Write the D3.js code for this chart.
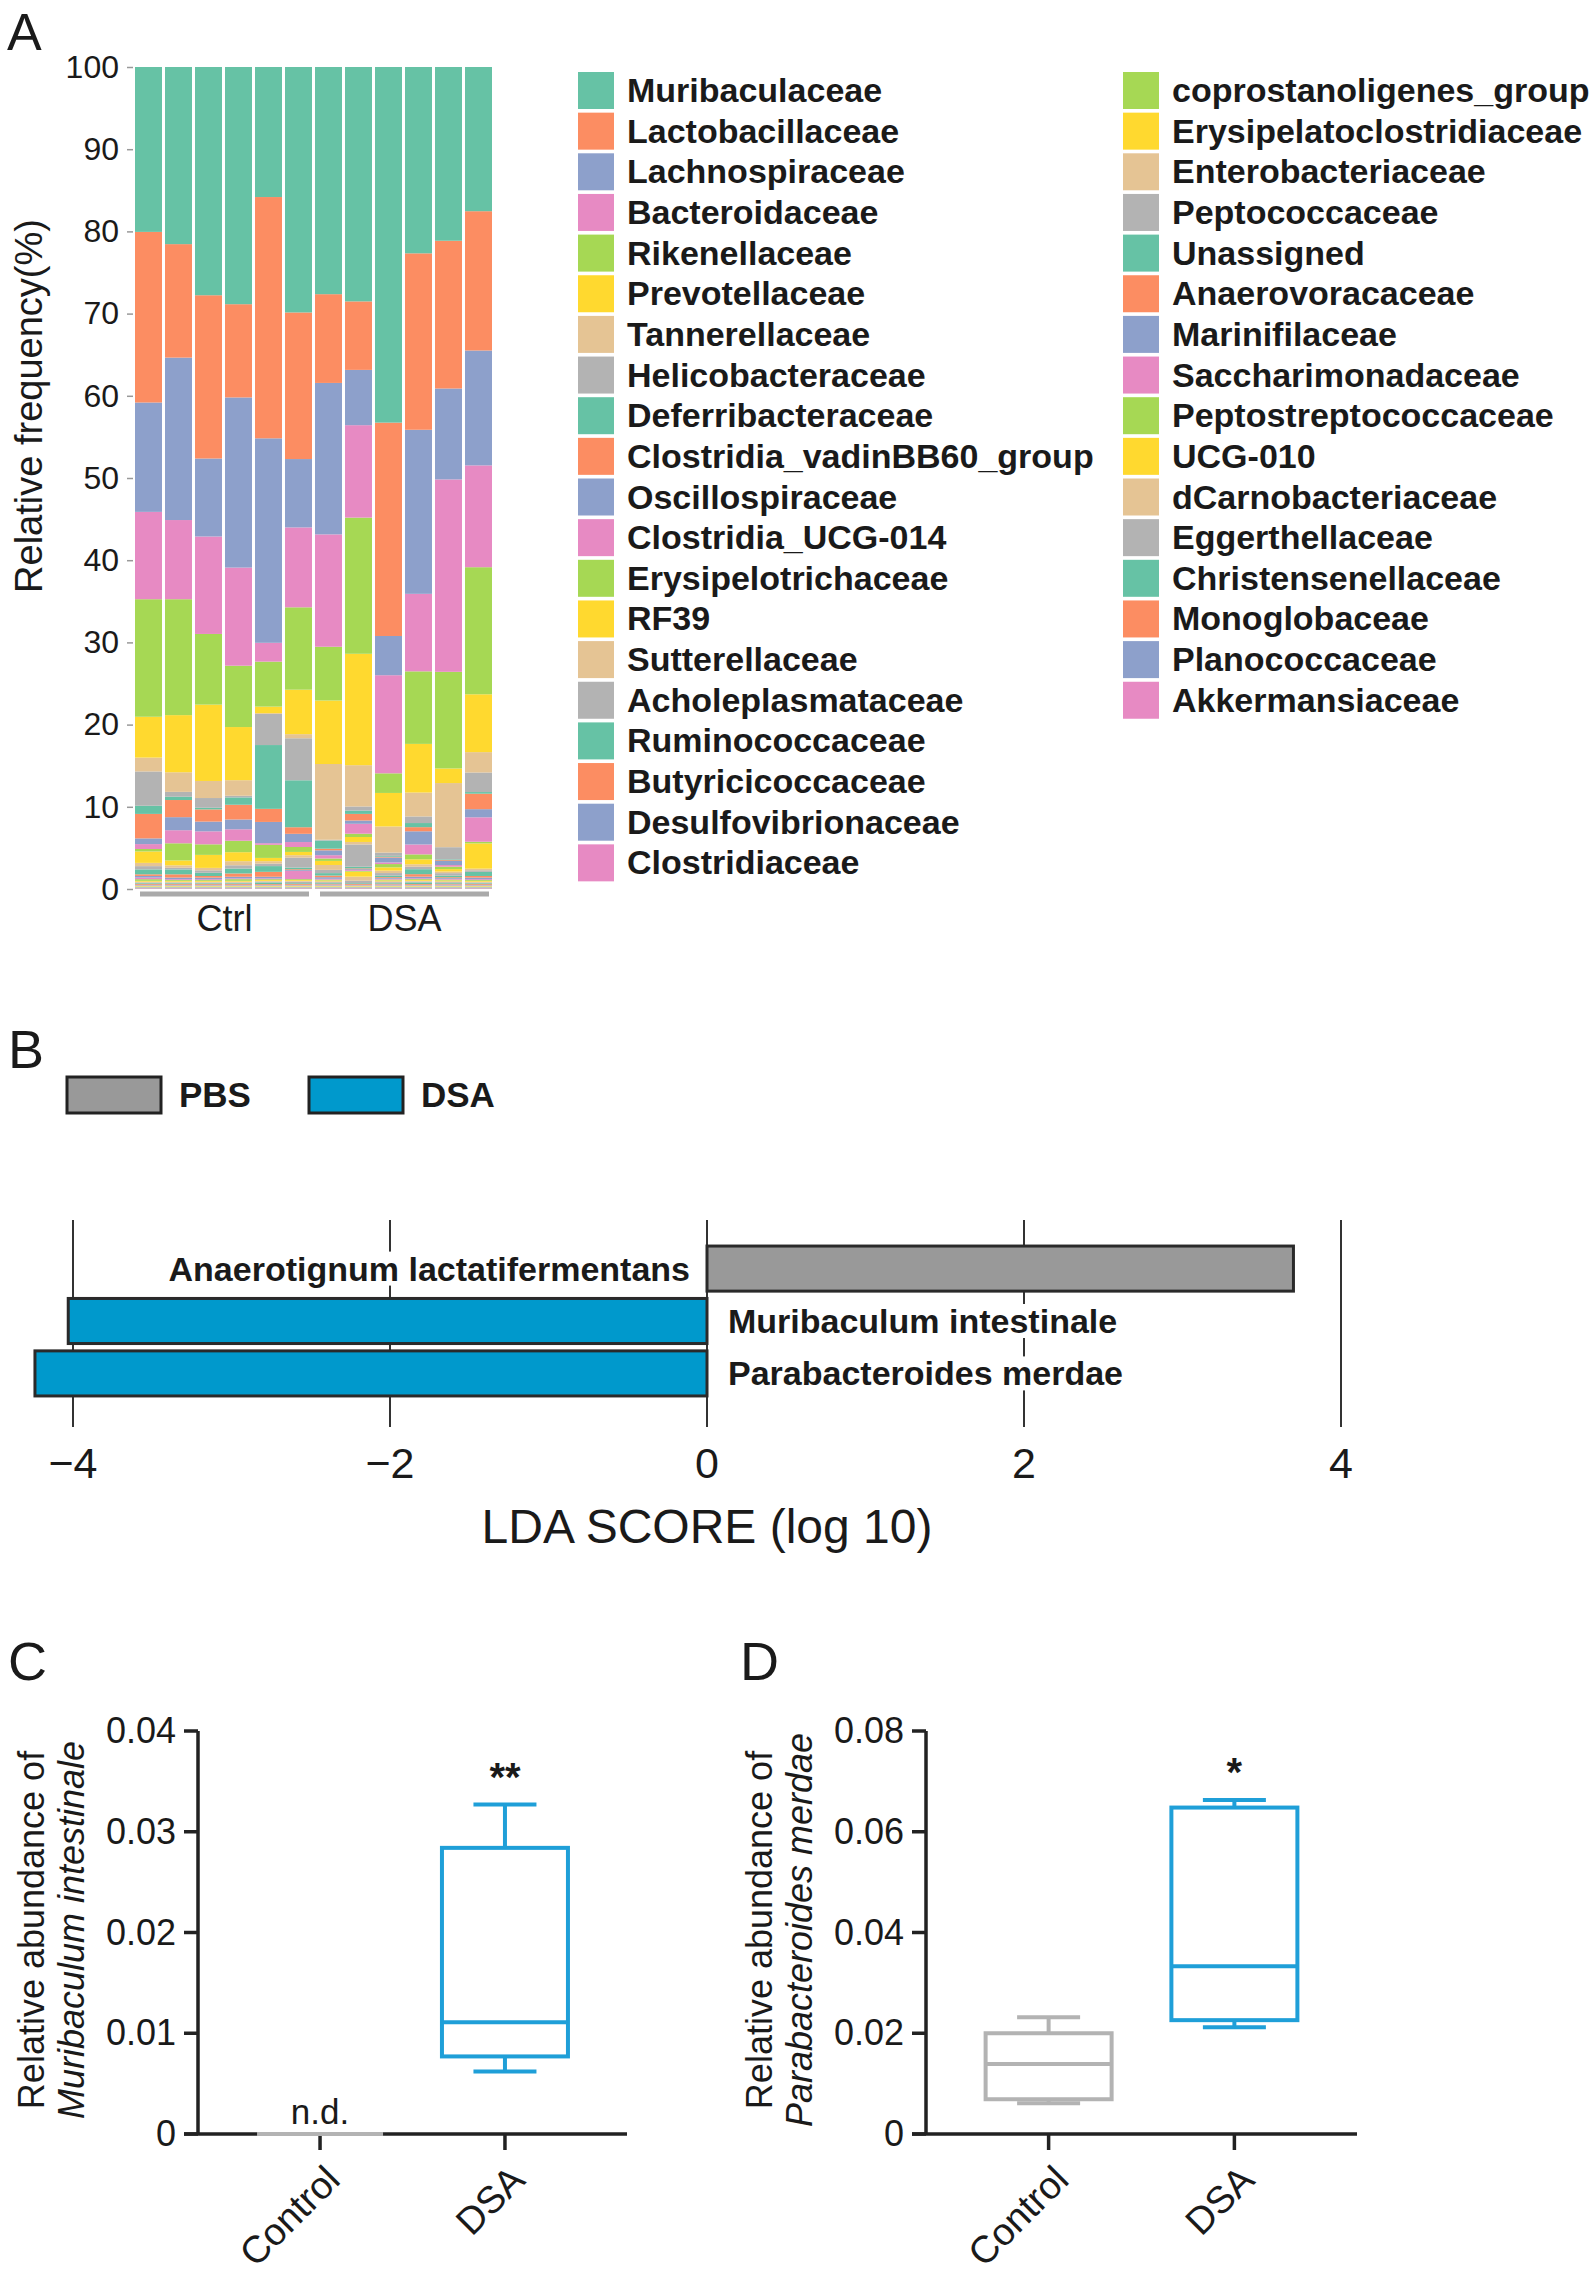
<!DOCTYPE html>
<html><head><meta charset="utf-8">
<script src="https://cdn.jsdelivr.net/npm/d3@7"></script>
<style>
body{margin:0;background:#fff}
svg text{font-family:"Liberation Sans",Arial,sans-serif;fill:#1a1a1a}
</style>
</head><body>
<svg id="chart" width="1595" height="2280"></svg>
<script>
// ---------- Panel A data ----------
const samples = ["Ctrl1","Ctrl2","Ctrl3","Ctrl4","Ctrl5","Ctrl6","DSA1","DSA2","DSA3","DSA4","DSA5","DSA6"];
const groups = ["Ctrl","DSA"];
const sampleGroup = ["Ctrl","Ctrl","Ctrl","Ctrl","Ctrl","Ctrl","DSA","DSA","DSA","DSA","DSA","DSA"];
const families = ["Muribaculaceae","Lactobacillaceae","Lachnospiraceae","Bacteroidaceae","Rikenellaceae","Prevotellaceae","Tannerellaceae","Helicobacteraceae","Deferribacteraceae","Clostridia_vadinBB60_group","Oscillospiraceae","Clostridia_UCG-014","Erysipelotrichaceae","RF39","Sutterellaceae","Acholeplasmataceae","Ruminococcaceae","Butyricicoccaceae","Desulfovibrionaceae","Clostridiaceae","coprostanoligenes_group","Erysipelatoclostridiaceae","Enterobacteriaceae","Peptococcaceae","Unassigned","Anaerovoracaceae","Marinifilaceae","Saccharimonadaceae","Peptostreptococcaceae","UCG-010","dCarnobacteriaceae","Eggerthellaceae","Christensenellaceae","Monoglobaceae","Planococcaceae","Akkermansiaceae"];
const muribaculaceae      = [20.2,21.7,28.1,29.0,15.9,29.8,27.9,28.4,43.5,22.6,21.4,17.7];
const lactobacillaceae    = [20.9,13.9,20.1,11.4,29.5,17.8,10.9, 8.3,26.1,21.4,18.2,17.1];
const lachnospiraceae     = [13.4,19.9, 9.6,20.8,25.0, 8.3,18.6, 6.7, 4.8,19.9,11.2,14.1];
const bacteroidaceae      = [10.7, 9.7,12.0,12.0, 2.3, 9.7,13.8,11.2,12.0, 9.4,23.7,12.5];
const rikenellaceae       = [14.4,14.2, 8.7, 7.5, 5.5,10.0, 6.6,16.5, 2.4, 8.8,11.9,15.6];
const prevotellaceae      = [ 5.0, 7.0, 9.4, 6.5, 0.8, 5.4, 7.8,13.5, 4.1, 5.9, 1.8, 7.1];
const tannerellaceae      = [ 1.7, 2.4, 2.1, 1.9, 0.1, 0.5, 9.3, 5.0, 3.2, 2.9, 7.9, 2.5];
const helicobacteraceae   = [ 4.2, 0.6, 1.2, 0.2, 3.8, 5.1, 0.1, 0.5, 0.4, 0.8, 1.5, 2.4];
const deferribacteraceae  = [ 1.0, 0.4, 0.2, 0.9, 7.8, 5.7, 1.0, 0.4, 0.1, 0.5, 0.1, 0.2];
const vadinBB60           = [ 3.0, 2.1, 1.5, 1.8, 1.6, 0.8, 0.2, 0.8, 0.1, 0.5, 0.1, 1.9];
const oscillospiraceae    = [ 0.7, 1.6, 1.2, 1.2, 2.6, 1.0, 0.6, 0.4, 0.6, 1.6, 0.5, 1.0];
const ucg014              = [ 0.6, 1.6, 1.6, 1.4, 0.2, 0.6, 0.4, 1.2, 0.2, 1.2, 0.2, 3.0];
const erysipelotrichaceae = [ 0.3, 2.1, 1.3, 1.4, 1.6, 0.6, 0.3, 0.4, 0.4, 0.6, 0.3, 0.2];
const rf39                = [ 1.4, 0.6, 1.6, 1.1, 0.4, 0.4, 0.5, 0.6, 0.4, 0.6, 0.3, 3.1];
const sutterellaceae      = [ 0.4, 0.3, 0.3, 0.5, 0.3, 0.3, 0.6, 0.3, 0.3, 0.3, 0.2, 0.2];
const acholeplasmataceae  = [ 0.4, 0.2, 0.3, 0.4, 0.3, 1.2, 0.4, 2.7, 0.3, 0.3, 0.3, 0.2];
const ruminococcaceae     = [ 0.6, 0.6, 0.4, 0.6, 0.7, 0.2, 0.3, 0.2, 0.2, 0.6, 0.2, 0.5];
const butyricicoccaceae   = [ 0.2, 0.4, 0.2, 0.4, 0.6, 0.1, 0.2, 0.1, 0.1, 0.3, 0.1, 0.2];
const desulfovibrionaceae = [ 0.2, 0.2, 0.2, 0.2, 0.2, 0.1, 0.2, 0.1, 0.1, 0.2, 0.1, 0.2];
const clostridiaceae      = [ 0.2, 0.1, 0.1, 0.1, 0.1, 1.0, 0.1, 0.1, 0.1, 0.1, 0.1, 0.1];
const coprostanoligenes   = [ 0.2, 0.1, 0.1, 0.2, 0.1, 0.1, 0.1, 0.1, 0.1, 0.1, 0.1, 0.1];
const erysipelatoclostr   = [ 0.1, 0.1, 0.1, 0.1, 0.1, 0.1, 0.1, 0.6, 0.1, 0.1, 0.1, 0.1];
const enterobacteriaceae  = [ 0.1, 0.1, 0.1, 0.1, 0.1, 0.1, 0.1, 0.5, 0.1, 0.1, 0.1, 0.1];
const peptococcaceae      = [ 0.1, 0.1, 0.1, 0.1, 0.1, 0.2, 0.1, 0.3, 0.1, 0.1, 0.1, 0.1];
const unassigned          = [ 0.1, 0.1, 0.1, 0.1, 0.2, 0.1, 0.1, 0.1, 0.1, 0.2, 0.1, 0.1];
const anaerovoracaceae    = [ 0.1, 0.1, 0.1, 0.1, 0.1, 0.1, 0.1, 0.1, 0.1, 0.1, 0.1, 0.1];
const marinifilaceae      = [ 0.05,0.05,0.05,0.05,0.05,0.05,0.1, 0.05,0.1, 0.05,0.1, 0.05];
const saccharimonadaceae  = [ 0.05,0.05,0.05,0.05,0.05,0.05,0.05,0.05,0.05,0.05,0.05,0.05];
const peptostreptococc    = [ 0.05,0.05,0.05,0.05,0.05,0.05,0.05,0.05,0.05,0.05,0.05,0.05];
const ucg010              = [ 0.05,0.05,0.05,0.05,0.05,0.05,0.05,0.05,0.05,0.05,0.05,0.05];
const dcarnobacteriaceae  = [ 0.05,0.05,0.05,0.05,0.05,0.05,0.05,0.05,0.05,0.05,0.05,0.05];
const eggerthellaceae     = [ 0.05,0.05,0.05,0.05,0.05,0.05,0.05,0.05,0.05,0.05,0.05,0.05];
const christensenellaceae = [ 0.05,0.05,0.05,0.05,0.05,0.05,0.05,0.05,0.05,0.05,0.05,0.05];
const monoglobaceae       = [ 0.05,0.05,0.05,0.05,0.05,0.05,0.05,0.05,0.05,0.05,0.05,0.05];
const planococcaceae      = [ 0.05,0.05,0.05,0.05,0.05,0.05,0.05,0.05,0.05,0.05,0.05,0.05];
const akkermansiaceae     = [ 0.05,0.05,0.05,0.05,0.05,0.05,0.05,0.05,0.05,0.05,0.05,0.05];
const abundance = [muribaculaceae,lactobacillaceae,lachnospiraceae,bacteroidaceae,rikenellaceae,prevotellaceae,tannerellaceae,helicobacteraceae,deferribacteraceae,vadinBB60,oscillospiraceae,ucg014,erysipelotrichaceae,rf39,sutterellaceae,acholeplasmataceae,ruminococcaceae,butyricicoccaceae,desulfovibrionaceae,clostridiaceae,coprostanoligenes,erysipelatoclostr,enterobacteriaceae,peptococcaceae,unassigned,anaerovoracaceae,marinifilaceae,saccharimonadaceae,peptostreptococc,ucg010,dcarnobacteriaceae,eggerthellaceae,christensenellaceae,monoglobaceae,planococcaceae,akkermansiaceae];
const aTicks = [0,10,20,30,40,50,60,70,80,90,100];

// ---------- Panel B data ----------
const ldaSpecies = ["Anaerotignum lactatifermentans","Muribaculum intestinale","Parabacteroides merdae"];
const ldaScores = [3.70,-4.03,-4.24];
const ldaGroups = ["PBS","DSA","DSA"];
const ldaLegend = ["PBS","DSA"];
const ldaTicks = [-4,-2,0,2,4];

// ---------- Panel C / D data (min, Q1, median, Q3, max) ----------
const boxGroups = ["Control","DSA"];
const cControl = [0,0,0,0,0];
const cDSA = [0.0062,0.0077,0.0111,0.0284,0.0327];
const cTicks = [0,0.01,0.02,0.03,0.04];
const dControl = [0.0061,0.0069,0.0139,0.0200,0.0232];
const dDSA = [0.0212,0.0226,0.0333,0.0648,0.0663];
const dTicks = [0,0.02,0.04,0.06,0.08];

const svg = d3.select("#chart");

// ================= Panel A =================
svg.append("text").attr("x",7).attr("y",50).attr("font-size",52).text("A");
const color = d3.scaleOrdinal().domain(families).range(d3.schemeSet2);
const xA = d3.scaleBand().domain(samples).range([135,492]).paddingInner(0.1).paddingOuter(0);
const yA = d3.scaleLinear().domain([0,1]).range([889,67]);
const yAaxis = d3.scaleLinear().domain([0,100]).range([889,67]);
const rows = samples.map((s,i)=>{const r={sample:s}; families.forEach((f,j)=>r[f]=abundance[j][i]); return r;});
const stacked = d3.stack().keys(families.slice().reverse()).offset(d3.stackOffsetExpand)(rows);
const gA = svg.append("g");
gA.selectAll("g.layer").data(stacked).join("g").attr("fill",d=>color(d.key))
  .selectAll("rect").data(d=>d).join("rect")
  .attr("x",d=>xA(d.data.sample)).attr("width",xA.bandwidth())
  .attr("y",d=>yA(d[1])).attr("height",d=>Math.max(0,yA(d[0])-yA(d[1])));
const axA = svg.append("g").attr("transform","translate(133,0)")
  .call(d3.axisLeft(yAaxis).tickValues(aTicks).tickSize(6).tickPadding(8).tickFormat(d3.format("d")));
axA.select(".domain").remove();
axA.selectAll("line").attr("stroke","#999").attr("stroke-width",1.5);
axA.selectAll("text").attr("font-size",32).attr("font-family","Liberation Sans, Arial").attr("fill","#222");
svg.append("text").attr("transform","translate(42,406) rotate(-90)").attr("text-anchor","middle")
  .attr("font-size",38).text("Relative frequency(%)");
// group brackets
groups.forEach(g=>{
  const ss = samples.filter((s,i)=>sampleGroup[i]===g);
  const x0 = xA(ss[0])+5, x1 = xA(ss[ss.length-1])+xA.bandwidth()-3;
  svg.append("line").attr("x1",x0).attr("x2",x1).attr("y1",894).attr("y2",894)
    .attr("stroke","#aaa").attr("stroke-width",5);
  svg.append("text").attr("x",(x0+x1)/2).attr("y",931).attr("text-anchor","middle")
    .attr("font-size",36).text(g);
});
// legend
families.forEach((f,i)=>{
  const col = i<20?0:1, row = i<20?i:i-20;
  const sx = col===0?578:1123, tx = col===0?627:1172;
  const y = 72 + row*40.65;
  svg.append("rect").attr("x",sx).attr("y",y).attr("width",36).attr("height",37).attr("fill",color(f));
  svg.append("text").attr("x",tx).attr("y",y+30).attr("font-size",34).attr("font-weight","bold")
    .attr("fill","#1a1a1a").text(f);
});

// ================= Panel B =================
svg.append("text").attr("x",8).attr("y",1068).attr("font-size",54).text("B");
const ldaColor = d3.scaleOrdinal().domain(ldaLegend).range(["#999999","#0099cc"]);
ldaLegend.forEach((g,i)=>{
  const x0 = i===0?67:309;
  svg.append("rect").attr("x",x0).attr("y",1077).attr("width",94).attr("height",36)
    .attr("fill",ldaColor(g)).attr("stroke","#222").attr("stroke-width",3);
  svg.append("text").attr("x",x0+112).attr("y",1107).attr("font-size",35).attr("font-weight","bold").text(g);
});
const xB = d3.scaleLinear().domain([-4,4]).range([73,1341]);
const yB = d3.scaleBand().domain(ldaSpecies).range([1245,1397]).paddingInner(0.14).paddingOuter(0.02);
const gB = svg.append("g");
gB.selectAll("line.grid").data(ldaTicks).join("line")
  .attr("x1",d=>xB(d)).attr("x2",d=>xB(d)).attr("y1",1220).attr("y2",1427)
  .attr("stroke","#333").attr("stroke-width",2);
gB.selectAll("rect.bar").data(ldaSpecies).join("rect")
  .attr("x",(d,i)=>xB(Math.min(0,ldaScores[i]))).attr("width",(d,i)=>Math.abs(xB(ldaScores[i])-xB(0)))
  .attr("y",d=>yB(d)).attr("height",yB.bandwidth())
  .attr("fill",(d,i)=>ldaColor(ldaGroups[i])).attr("stroke","#2a2a2a").attr("stroke-width",3);
ldaSpecies.forEach((s,i)=>{
  const pos = ldaScores[i]>0;
  const t = gB.append("text").attr("x",pos?xB(0)-17:xB(0)+21).attr("y",yB(s)+yB.bandwidth()/2+12)
    .attr("text-anchor",pos?"end":"start").attr("font-size",34).attr("font-weight","bold").text(s);
  const bb = t.node().getBBox();
  gB.insert("rect",()=>t.node()).attr("x",bb.x-2).attr("y",bb.y+2).attr("width",bb.width+4).attr("height",bb.height-4).attr("fill","#fff");
});
gB.selectAll("text.tick").data(ldaTicks).join("text")
  .attr("x",d=>xB(d)).attr("y",1478).attr("text-anchor","middle")
  .attr("font-family","DejaVu Sans").attr("font-size",43).text(d=>d3.format("d")(d));
svg.append("text").attr("x",707).attr("y",1543).attr("text-anchor","middle")
  .attr("font-family","DejaVu Sans").attr("font-size",48).text("LDA SCORE (log 10)");

// ================= Panels C / D =================
function boxPanel(opt){
  svg.append("text").attr("x",opt.labelX).attr("y",1680).attr("font-size",54).text(opt.letter);
  const y = d3.scaleLinear().domain([0,opt.max]).range([2134,1731]);
  const x = d3.scalePoint().domain(boxGroups).range([opt.x0,opt.x1]).padding(0.66);
  const g = svg.append("g");
  g.append("line").attr("x1",opt.x0).attr("x2",opt.x0).attr("y1",1731).attr("y2",2134).attr("stroke","#222").attr("stroke-width",3.5);
  opt.ticks.forEach(t=>{
    g.append("line").attr("x1",opt.x0-14).attr("x2",opt.x0).attr("y1",y(t)).attr("y2",y(t)).attr("stroke","#222").attr("stroke-width",3.5);
    g.append("text").attr("x",opt.x0-22).attr("y",y(t)+12).attr("text-anchor","end").attr("font-size",36)
      .text(t===0?"0":d3.format(".2f")(t));
  });
  g.append("line").attr("x1",opt.x0-14).attr("x2",opt.x1).attr("y1",2134).attr("y2",2134).attr("stroke","#222").attr("stroke-width",3.5);
  boxGroups.forEach(b=>{
    g.append("line").attr("x1",x(b)).attr("x2",x(b)).attr("y1",2134).attr("y2",2150).attr("stroke","#222").attr("stroke-width",3.5);
    g.append("text").attr("transform",`translate(${x(b)+22},${2134+48}) rotate(-45)`).attr("text-anchor","end")
      .attr("font-size",38).text(b);
  });
  const bw = 126;
  opt.stats.forEach((st,i)=>{
    const cx = x(boxGroups[i]), col = opt.colors[i];
    const s = {stroke:col,"stroke-width":4,fill:"none"};
    const add = (tag,attrs)=>{const e=g.append(tag); Object.entries({...s,...attrs}).forEach(([k,v])=>e.attr(k,v)); return e;};
    add("line",{x1:cx,x2:cx,y1:y(st[3]),y2:y(st[4])});
    add("line",{x1:cx,x2:cx,y1:y(st[0]),y2:y(st[1])});
    add("line",{x1:cx-bw/4,x2:cx+bw/4,y1:y(st[4]),y2:y(st[4])});
    add("line",{x1:cx-bw/4,x2:cx+bw/4,y1:y(st[0]),y2:y(st[0])});
    add("rect",{x:cx-bw/2,y:y(st[3]),width:bw,height:Math.max(0,y(st[1])-y(st[3]))});
    add("line",{x1:cx-bw/2,x2:cx+bw/2,y1:y(st[2]),y2:y(st[2])});
    const note = opt.notes[i];
    if(note){
      const nd = note==="n.d.";
      g.append("text").attr("x",cx).attr("y",nd?2124:y(st[4])-14)
        .attr("text-anchor","middle").attr("font-size",nd?35:40).attr("font-weight",nd?"normal":"bold")
        .text(note);
    }
  });
  const tt = svg.append("text").attr("transform",`translate(${opt.titleX},1930) rotate(-90)`).attr("text-anchor","middle").attr("font-size",36);
  tt.append("tspan").attr("x",0).attr("dy",0).text("Relative abundance of");
  tt.append("tspan").attr("x",0).attr("dy",40).attr("font-style","italic").text(opt.species);
}
boxPanel({letter:"C",labelX:8,x0:198,x1:627,max:0.04,ticks:cTicks,stats:[cControl,cDSA],
  colors:["#b3b3b3","#1f9fd8"],notes:["n.d.","**"],titleX:44,species:"Muribaculum intestinale"});
boxPanel({letter:"D",labelX:740,x0:926,x1:1357,max:0.08,ticks:dTicks,stats:[dControl,dDSA],
  colors:["#b3b3b3","#1f9fd8"],notes:[null,"*"],titleX:772,species:"Parabacteroides merdae"});
</script>
</body></html>
